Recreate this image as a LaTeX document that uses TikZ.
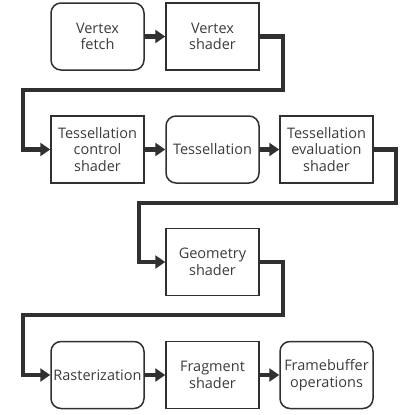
\documentclass[tikz,border=0pt]{standalone}
\usepackage{fontspec}
\setmainfont{Open Sans}
\usetikzlibrary{arrows.meta}
\definecolor{linec}{HTML}{303030}
\definecolor{textc}{HTML}{3C3C3C}
\tikzset{
  stage/.style={draw=linec, line width=1.5pt, fill=white, minimum width=93pt, minimum height=67pt,
    align=center, text=textc, font=\fontsize{14.5}{16.5}\selectfont, inner sep=1pt},
  fixedstage/.style={stage, rounded corners=10pt},
  conn/.style={draw=linec, line width=4.5pt, line join=miter, -{Triangle[length=10pt,width=13pt]}}
}
\begin{document}
\begin{tikzpicture}[x=1pt,y=-1pt]
\useasboundingbox (0,0) rectangle (405,415);
\node[fixedstage] (vf) at (97.5,36.5) {Vertex\\fetch};
\node[stage] (vs) at (212.5,36.5) {Vertex\\shader};
\node[stage] (tcs) at (97.5,149.5) {Tessellation\\control\\shader};
\node[fixedstage] (tess) at (212.5,149.5) {Tessellation};
\node[stage] (tes) at (326.5,149.5) {Tessellation\\evaluation\\shader};
\node[stage] (gs) at (212.5,262) {Geometry\\shader};
\node[fixedstage] (rast) at (97.5,375) {Rasterization};
\node[stage] (fs) at (212.5,375) {Fragment\\shader};
\node[fixedstage] (fb) at (326.5,375) {Framebuffer\\operations};
\coordinate (b1) at (283,90);
\coordinate (b2) at (23,90);
\coordinate (b3) at (396,203);
\coordinate (b4) at (139,203);
\coordinate (b5) at (283,315);
\coordinate (b6) at (23,315);
\draw[conn] (vf) -- (vs);
\draw[conn] (vs.east) -| (b1) -- (b2) |- (tcs.west);
\draw[conn] (tcs) -- (tess);
\draw[conn] (tess) -- (tes);
\draw[conn] (tes.east) -| (b3) -- (b4) |- (gs.west);
\draw[conn] (gs.east) -| (b5) -- (b6) |- (rast.west);
\draw[conn] (rast) -- (fs);
\draw[conn] (fs) -- (fb);
\end{tikzpicture}
\end{document}
